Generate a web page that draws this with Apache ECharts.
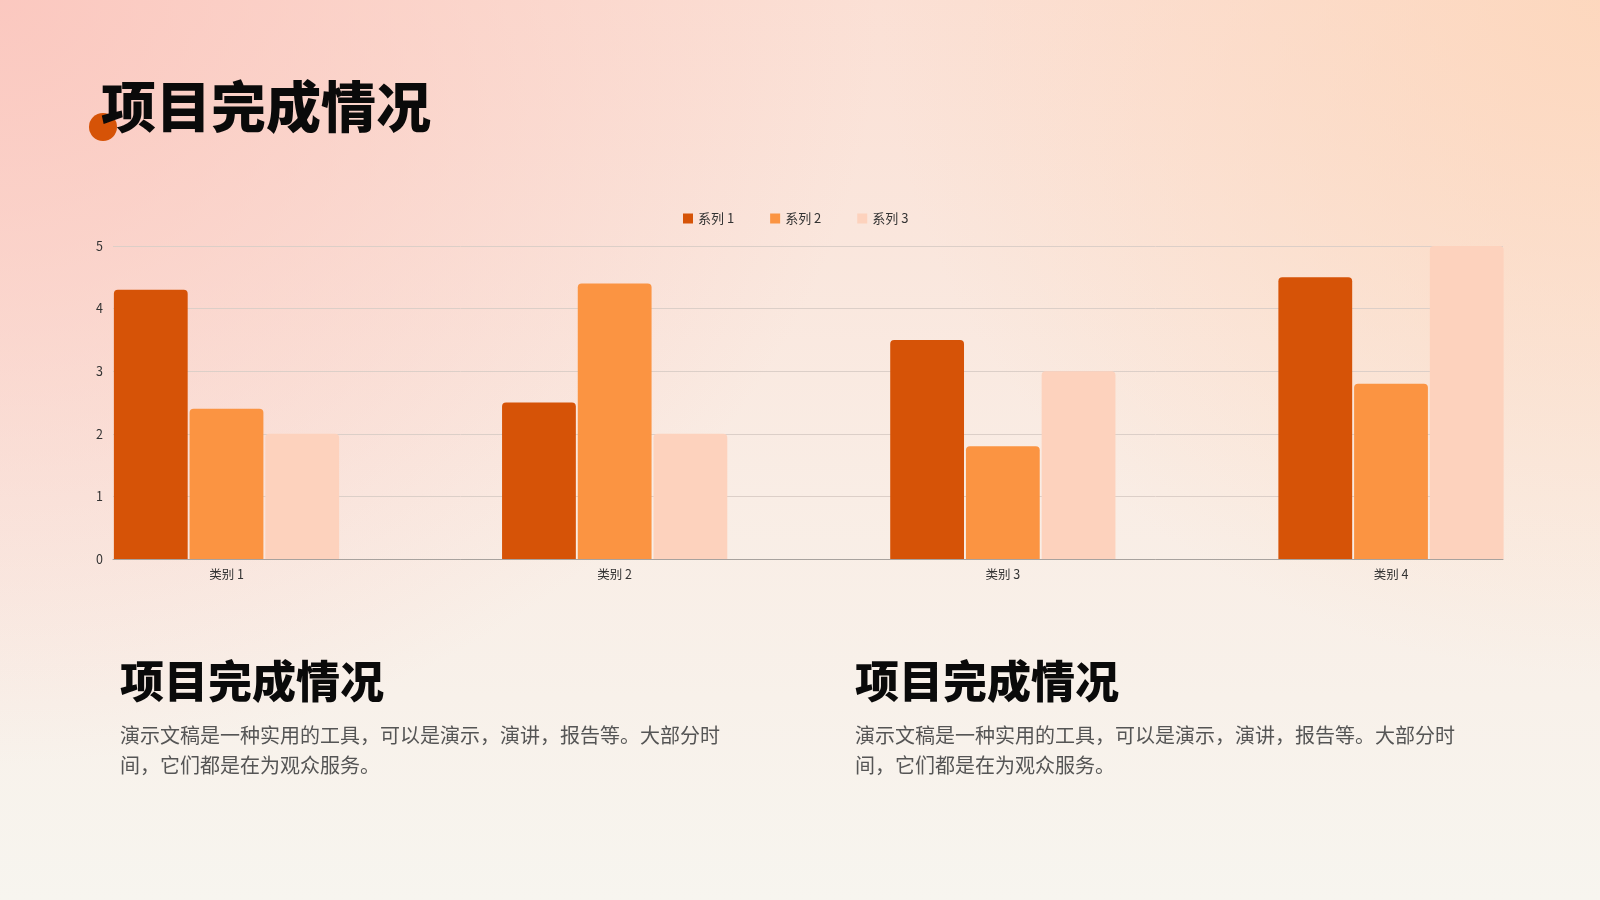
<!DOCTYPE html>
<html lang="zh">
<head>
<meta charset="UTF-8">
<title>项目完成情况</title>
<script src="https://cdn.jsdelivr.net/npm/echarts@6/dist/echarts.min.js"></script>
<style>
  html, body { margin: 0; padding: 0; }
  body {
    width: 1600px; height: 900px; overflow: hidden;
    background:
      radial-gradient(ellipse 55% 85% at 0% 0%, rgba(251,196,188,0.85), rgba(251,196,188,0) 100%),
      radial-gradient(ellipse 45% 75% at 100% 0%, rgba(253,214,186,0.85), rgba(253,214,186,0) 100%),
      linear-gradient(180deg, #FBE0D5 0%, #F9EDE5 55%, #F7F5EF 100%);
  }
  #main { width: 1600px; height: 900px; }
</style>
</head>
<body>
<div id="main"></div>
<script>
// 数据
const categories = ['类别 1', '类别 2', '类别 3', '类别 4'];
const seriesNames = ['系列 1', '系列 2', '系列 3'];
const series1 = [4.3, 2.5, 3.5, 4.5];
const series2 = [2.4, 4.4, 1.8, 2.8];
const series3 = [2, 2, 3, 5];
const colors = ['#D65307', '#FB9442', '#FDD2BD'];

const titleText = '项目完成情况';
const bodyText = '演示文稿是一种实用的工具，可以是演示，演讲，报告等。大部分时\n间，它们都是在为观众服务。';

const myChart = echarts.init(document.getElementById('main'));

const font = '"Noto Sans CJK SC", "Noto Sans", sans-serif';
const barStyle = (c) => ({ color: c, borderRadius: [4, 4, 0, 0] });

const option = {
  backgroundColor: 'transparent',
  textStyle: { fontFamily: font },
  color: colors,
  legend: {
    top: 207,
    left: 678,
    itemWidth: 10,
    itemHeight: 10,
    itemGap: 36,
    icon: 'rect',
    textStyle: { fontSize: 13, color: '#333' },
    data: seriesNames
  },
  // grid 0: 网格线与坐标轴线；grid 1: 柱子与类别标签
  grid: [
    { left: 113, right: 97, top: 246, bottom: 341 },
    { left: 226.5, right: 209, top: 246, bottom: 341 }
  ],
  xAxis: [
    {
      gridIndex: 0, type: 'value', min: 0, max: 1,
      axisLine: { show: true, lineStyle: { color: '#A8A29E', width: 1 } },
      axisTick: { show: false }, axisLabel: { show: false }, splitLine: { show: false }
    },
    {
      gridIndex: 1, type: 'category', data: categories, boundaryGap: false,
      axisLine: { show: false }, axisTick: { show: false },
      axisLabel: { color: '#333', fontSize: 12.5, margin: 9 }
    }
  ],
  yAxis: [
    {
      gridIndex: 0, type: 'value', min: 0, max: 5, interval: 1,
      axisLine: { show: false }, axisTick: { show: false },
      axisLabel: { color: '#333', fontSize: 12.5, margin: 10 },
      splitLine: { lineStyle: { color: '#DCCFC8', width: 1 } }
    },
    {
      gridIndex: 1, type: 'value', min: 0, max: 5, interval: 1, show: false
    }
  ],
  series: [
    { name: seriesNames[0], type: 'bar', xAxisIndex: 1, yAxisIndex: 1, data: series1,
      barWidth: 73.8, barGap: '2.6%', clip: false, itemStyle: barStyle(colors[0]) },
    { name: seriesNames[1], type: 'bar', xAxisIndex: 1, yAxisIndex: 1, data: series2,
      barWidth: 73.8, barGap: '2.6%', clip: false, itemStyle: barStyle(colors[1]) },
    { name: seriesNames[2], type: 'bar', xAxisIndex: 1, yAxisIndex: 1, data: series3,
      barWidth: 73.8, barGap: '2.6%', clip: false, itemStyle: barStyle(colors[2]) }
  ],
  graphic: [
    { type: 'circle', shape: { cx: 103, cy: 127, r: 14 }, style: { fill: '#D65307' }, z: 1 },
    { type: 'text', left: 101, top: 79, z: 2,
      style: { text: titleText, fill: '#0A0A0A', font: '900 55px ' + font } },
    { type: 'text', left: 120, top: 659,
      style: { text: titleText, fill: '#0A0A0A', font: '900 44px ' + font } },
    { type: 'text', left: 855, top: 659,
      style: { text: titleText, fill: '#0A0A0A', font: '900 44px ' + font } },
    { type: 'text', left: 120, top: 720,
      style: { text: bodyText, fill: '#555', font: '20px ' + font, lineHeight: 30 } },
    { type: 'text', left: 855, top: 720,
      style: { text: bodyText, fill: '#555', font: '20px ' + font, lineHeight: 30 } }
  ]
};

myChart.setOption(option);
</script>
</body>
</html>
